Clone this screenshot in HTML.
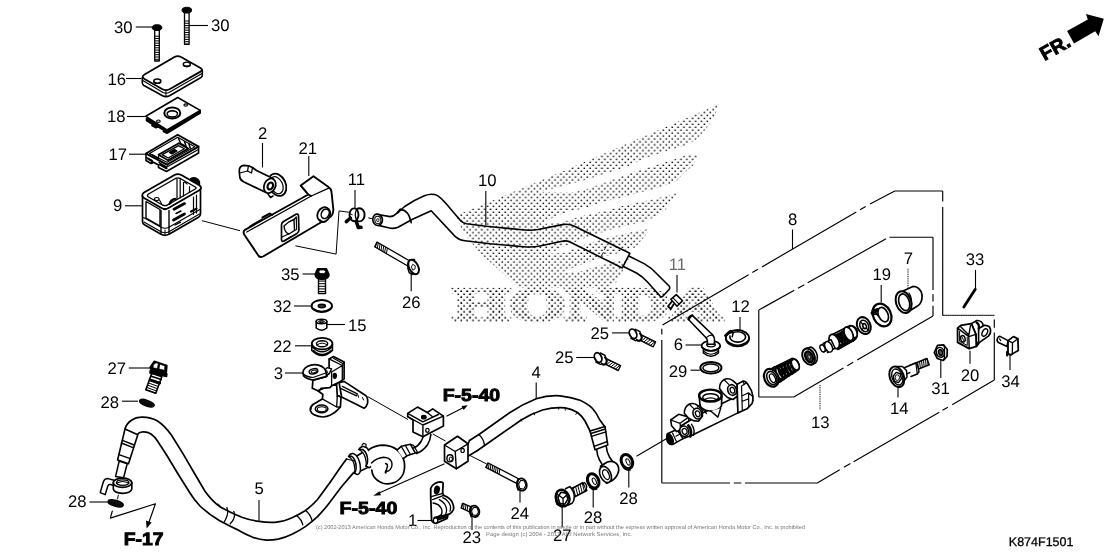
<!DOCTYPE html>
<html><head><meta charset="utf-8"><title>Rear brake master cylinder</title>
<style>
html,body{margin:0;padding:0;background:#fff;}
body{width:1120px;height:560px;overflow:hidden;font-family:"Liberation Sans",sans-serif;}
svg{display:block;filter:grayscale(1);text-rendering:geometricPrecision}
</style></head><body>
<svg width="1120" height="560" viewBox="0 0 1120 560" font-family='"Liberation Sans", sans-serif'>
<defs>
<pattern id="dots" width="5.86" height="5.86" patternUnits="userSpaceOnUse">
<rect x="0.5" y="0.6" width="1.55" height="1.35" fill="#000"/>
<rect x="3.43" y="3.53" width="1.55" height="1.35" fill="#000"/>
</pattern>
</defs>
<rect width="1120" height="560" fill="#fff"/>
<g id="wm">
<path d="M455,216 L560,172.5 L718.6,104.3 L715.7,113.6 L711.4,122 L704.3,130.7 L695.7,140 L699.5,153.5 L692.9,165.7 L682.9,174.3 L677.1,180.7 L678,192 L674.3,196.5 L665.7,210 L654.3,217.1 L650.5,228 L645.7,235.2 L636,247 L629,258 L624,268.6 L616.3,282.3 L606,288 L518,288 L502,272.5 L482,255 L465,235 Z" fill="url(#dots)"/>
<path d="M720,135 L695.7,140 L684.3,145.7 L670,150 L645.7,158 L627,166.4 L610,172 L583,180.7 L561,186.5 L540,192 L572.9,192.6 L587.1,189 L608.6,181.3 L632.9,172.2 L651.4,166.4 L677,158.6 L685.7,155 L698.6,154.8 L720,156 Z" fill="#fff"/>
<path d="M700,165 L692.9,165.7 L682.9,174.3 L677.1,180.7 L668.6,184.3 L660,187.1 L651.4,190 L637.1,192.9 L628.6,195.7 L617.1,198.6 L604.3,201.4 L594.3,205 L582.9,208.6 L568.6,211.4 L554.3,217.1 L540,224 L560,223 L578.6,217 L591.4,214 L607.1,210.5 L624.3,205.5 L640,202 L651.4,199.8 L662.9,197 L668.6,195.5 L677.1,192.6 L700,190 Z" fill="#fff"/>
<path d="M690,195 L674.3,196.5 L665.7,210 L654.3,217.1 L645.7,221.4 L625.7,225.7 L606,231 L585,238 L565,246 L548,254 L565,252.5 L585,244.5 L606,238 L630,232.5 L649.7,228.8 L690,220 Z" fill="#fff"/>
<path d="M670,233 L645.7,235.2 L636,247 L622,252 L600,258 L580,265 L560,273 L580,271.5 L600,265.5 L622,260 L629,258.5 L670,258 Z" fill="#fff"/>
<text x="453" y="320.3" font-family="'Liberation Serif', serif" font-weight="bold" font-size="46" textLength="269" lengthAdjust="spacingAndGlyphs" fill="url(#dots)" stroke="url(#dots)" stroke-width="4.2">HONDA</text>
</g>
<g font-family='"Liberation Sans", sans-serif'>
<text x="114" y="33" font-size="16.7" fill="#000">30</text>
<text x="211" y="31.2" font-size="16.7" fill="#000">30</text>
<text x="107.5" y="84.5" font-size="16.7" fill="#000">16</text>
<text x="107" y="122" font-size="16.7" fill="#000">18</text>
<text x="108.5" y="160" font-size="16.7" fill="#000">17</text>
<text x="113" y="210.5" font-size="16.7" fill="#000">9</text>
<text x="258" y="138.8" font-size="16.7" fill="#000">2</text>
<text x="298.5" y="153.8" font-size="16.7" fill="#000">21</text>
<text x="347.8" y="185" font-size="16.7" fill="#000">11</text>
<text x="478" y="186.2" font-size="16.7" fill="#000">10</text>
<text x="402" y="307.5" font-size="16.7" fill="#000">26</text>
<text x="281" y="280" font-size="16.7" fill="#000">35</text>
<text x="273" y="312" font-size="16.7" fill="#000">32</text>
<text x="348" y="330.5" font-size="16.7" fill="#000">15</text>
<text x="273" y="352" font-size="16.7" fill="#000">22</text>
<text x="273.7" y="378.8" font-size="16.7" fill="#000">3</text>
<text x="107.5" y="374.2" font-size="16.7" fill="#000">27</text>
<text x="100.5" y="407.5" font-size="16.7" fill="#000">28</text>
<text x="68" y="507.2" font-size="16.7" fill="#000">28</text>
<text x="254.5" y="494.2" font-size="16.7" fill="#000">5</text>
<text x="408" y="526.2" font-size="16.7" fill="#000">1</text>
<text x="462.5" y="543" font-size="16.7" fill="#000">23</text>
<text x="510.5" y="519.2" font-size="16.7" fill="#000">24</text>
<text x="553" y="541.2" font-size="16.7" fill="#000">27</text>
<text x="583.8" y="523.2" font-size="16.7" fill="#000">28</text>
<text x="619.2" y="503.8" font-size="16.7" fill="#000">28</text>
<text x="555" y="363" font-size="16.7" fill="#000">25</text>
<text x="590.5" y="338.8" font-size="16.7" fill="#000">25</text>
<text x="531.5" y="377.5" font-size="16.7" fill="#000">4</text>
<text x="673.8" y="350" font-size="16.7" fill="#000">6</text>
<text x="668.8" y="376.5" font-size="16.7" fill="#000">29</text>
<text x="731.2" y="311.8" font-size="16.7" fill="#000">12</text>
<text x="872.5" y="279.5" font-size="16.7" fill="#000">19</text>
<text x="788" y="224.5" font-size="16.7" fill="#000">8</text>
<text x="903.8" y="263.8" font-size="16.7" fill="#000">7</text>
<text x="965.8" y="264.5" font-size="16.7" fill="#000">33</text>
<text x="890" y="413.8" font-size="16.7" fill="#000">14</text>
<text x="931.2" y="393.8" font-size="16.7" fill="#000">31</text>
<text x="960.8" y="380.8" font-size="16.7" fill="#000">20</text>
<text x="1001.2" y="387" font-size="16.7" fill="#000">34</text>
<text x="811" y="427.5" font-size="16.7" fill="#000">13</text>
<text x="668.8" y="269.5" font-size="16.7" fill="#6a6a6a">11</text>
<line x1="135.8" y1="27" x2="153.5" y2="27" stroke="#000" stroke-width="1.1" />
<line x1="189" y1="25.5" x2="208" y2="25.5" stroke="#000" stroke-width="1.1" />
<line x1="126" y1="78.5" x2="141.5" y2="78.5" stroke="#000" stroke-width="1.1" />
<line x1="127" y1="116.5" x2="146" y2="116.5" stroke="#000" stroke-width="1.1" />
<line x1="129" y1="154.2" x2="146" y2="154.2" stroke="#000" stroke-width="1.1" />
<line x1="125" y1="205.8" x2="142.5" y2="205.8" stroke="#000" stroke-width="1.1" />
<line x1="302.5" y1="274" x2="316" y2="274" stroke="#000" stroke-width="1.1" />
<line x1="294" y1="306" x2="311" y2="306" stroke="#000" stroke-width="1.1" />
<line x1="326" y1="324.5" x2="345" y2="324.5" stroke="#000" stroke-width="1.1" />
<line x1="295" y1="345.8" x2="312.5" y2="345.8" stroke="#000" stroke-width="1.1" />
<line x1="285" y1="373" x2="302.5" y2="373" stroke="#000" stroke-width="1.1" />
<line x1="128.8" y1="368" x2="150" y2="368" stroke="#000" stroke-width="1.1" />
<line x1="122" y1="401.2" x2="138" y2="401.2" stroke="#000" stroke-width="1.1" />
<line x1="89.5" y1="502" x2="107.5" y2="502" stroke="#000" stroke-width="1.1" />
<line x1="417.5" y1="520.5" x2="432.5" y2="520.5" stroke="#000" stroke-width="1.1" />
<line x1="576.2" y1="357.5" x2="594" y2="357.5" stroke="#000" stroke-width="1.1" />
<line x1="612" y1="332.9" x2="629.4" y2="332.9" stroke="#000" stroke-width="1.1" />
<line x1="685.5" y1="345" x2="702.5" y2="345" stroke="#000" stroke-width="1.1" />
<line x1="690.5" y1="370.2" x2="699.8" y2="370.2" stroke="#000" stroke-width="1.1" />
<line x1="262.5" y1="143" x2="262.5" y2="167.5" stroke="#000" stroke-width="1.1" />
<line x1="308.8" y1="156" x2="308.8" y2="176" stroke="#000" stroke-width="1.1" />
<line x1="355" y1="190" x2="355" y2="209" stroke="#000" stroke-width="1.1" />
<line x1="485.8" y1="191" x2="485.8" y2="225" stroke="#000" stroke-width="1.1" />
<line x1="411.2" y1="273.8" x2="411.2" y2="291.2" stroke="#000" stroke-width="1.1" />
<line x1="259" y1="500" x2="259" y2="521" stroke="#000" stroke-width="1.1" />
<line x1="472" y1="516" x2="472" y2="530" stroke="#000" stroke-width="1.1" />
<line x1="520" y1="488.8" x2="520" y2="502.5" stroke="#000" stroke-width="1.1" />
<line x1="562.2" y1="506" x2="562.2" y2="527.5" stroke="#000" stroke-width="1.1" />
<line x1="593.2" y1="488" x2="593.2" y2="507.5" stroke="#000" stroke-width="1.1" />
<line x1="628.8" y1="468.8" x2="628.8" y2="487.5" stroke="#000" stroke-width="1.1" />
<line x1="536.2" y1="382.5" x2="536.2" y2="398.8" stroke="#000" stroke-width="1.1" />
<line x1="740" y1="317" x2="740" y2="331.2" stroke="#000" stroke-width="1.1" />
<line x1="881.2" y1="285" x2="881.2" y2="302.5" stroke="#000" stroke-width="1.1" />
<line x1="792.5" y1="229.5" x2="792.5" y2="249.5" stroke="#000" stroke-width="1.1" />
<line x1="677" y1="275" x2="677" y2="292.5" stroke="#000" stroke-width="1.1" />
<line x1="975.5" y1="270" x2="975.5" y2="288" stroke="#000" stroke-width="1.1" />
<line x1="898" y1="386.2" x2="898" y2="397.5" stroke="#000" stroke-width="1.1" />
<line x1="940.8" y1="359.5" x2="940.8" y2="378" stroke="#000" stroke-width="1.1" />
<line x1="970" y1="350.8" x2="970" y2="363.8" stroke="#000" stroke-width="1.1" />
<line x1="1010" y1="355" x2="1010" y2="370" stroke="#000" stroke-width="1.1" />
<line x1="908" y1="268.8" x2="908" y2="287.5" stroke="#000" stroke-width="1.0" stroke-dasharray="1 0.8" stroke="#333"/>
<line x1="820" y1="385" x2="820" y2="410" stroke="#000" stroke-width="1.0" stroke-dasharray="1 0.8"/>
<text x="123.7" y="544.8" font-size="17.8" font-weight="bold" textLength="39.8" lengthAdjust="spacingAndGlyphs" stroke="#000" stroke-width="0.9" fill="#000">F-17</text>
<text x="339.5" y="513.8" font-size="17.5" font-weight="bold" textLength="57.8" lengthAdjust="spacingAndGlyphs" stroke="#000" stroke-width="0.9" fill="#000">F-5-40</text>
<text x="442.7" y="400.6" font-size="17.5" font-weight="bold" textLength="57.5" lengthAdjust="spacingAndGlyphs" stroke="#000" stroke-width="0.9" fill="#000">F-5-40</text>
<text x="1008.8" y="546.2" font-size="12.5" fill="#000" stroke="#000" stroke-width="0.3">K874F1501</text>
<text x="316" y="529" font-size="5.6" fill="#777" textLength="489" lengthAdjust="spacingAndGlyphs">(c) 2002-2013 American Honda Motor Co., Inc. Reproduction of the contents of this publication in whole or in part without the express written approval of American Honda Motor Co., Inc. is prohibited</text>
<text x="486" y="536" font-size="5.6" fill="#777" textLength="146" lengthAdjust="spacingAndGlyphs">Page design (c) 2004 - 2013 ARI Network Services, Inc.</text>
</g>
<path d="M661.8,483.0 L661.8,340.0 M661.8,334.4 L661.8,328.8 M662.5,325.0 L748.6,274.8 M752.3,272.6 L758.0,269.2 M762.0,266.9 L856.3,211.9 M860.0,209.7 L865.7,206.4 M870.0,203.9 L894.8,191.0 M894.8,191.0 L942.7,191.0 M942.7,191.0 L942.7,201.4 M942.7,207.0 L942.7,315.3 M994.3,319.5 L994.3,327.8 M994.3,332.5 L994.3,380.0 M994.3,380.0 L952.2,404.7 M947.9,407.2 L942.5,410.3 M939.3,412.2 L853.6,461.8 M850.4,463.6 L843.9,467.3 M839.7,469.8 L817.3,483.0 M817.3,483.0 L745.0,483.0 M741.3,483.0 L733.8,483.0 M730.0,483.0 L661.8,483.0 M758.8,397.0 L758.8,310.0 M758.8,310.0 L794.3,290.3 M798.0,288.2 L804.3,284.7 M807.7,282.8 L886.0,238.8 M889.4,237.2 L933.0,237.2 M933.0,237.2 L933.0,290.0 M933.0,294.3 L933.0,301.4 M933.0,305.7 L933.0,316.0 M933.0,316.0 L857.2,360.0 M853.2,362.3 L847.3,365.7 M843.4,368.0 L793.8,397.0 M793.8,397.0 L758.8,397.0" stroke="#000" stroke-width="1.15" fill="none" stroke-linecap="butt"/>
<path d="M942.7,315.3 L994.3,315.3" stroke="#000" stroke-width="1.0" fill="none" stroke-linejoin="round" stroke-linecap="round" stroke-dasharray="1 0.8"/>
<polygon points="1067.1,31 1087.8,19.4 1086,14 1103.8,18.8 1098.5,36.2 1095.2,31.2 1074,43.5" fill="#000"/>
<text x="0" y="0" font-family='"Liberation Sans", sans-serif' font-weight="bold" font-size="19.5" stroke="#000" stroke-width="0.9" transform="translate(1044.6,61) rotate(-29.5)">FR.</text>
<path d="M154.7,28.0 L154.7,61.0 L159.3,61.0 L159.3,28.0 Z" stroke="#000" stroke-width="1.3" fill="#fff" stroke-linejoin="round" stroke-linecap="round" />
<line x1="154.7" y1="36.2" x2="159.3" y2="36.2" stroke="#000" stroke-width="1.0" />
<line x1="154.7" y1="38.5" x2="159.3" y2="38.5" stroke="#000" stroke-width="1.0" />
<line x1="154.7" y1="40.9" x2="159.3" y2="40.9" stroke="#000" stroke-width="1.0" />
<line x1="154.7" y1="43.2" x2="159.3" y2="43.2" stroke="#000" stroke-width="1.0" />
<line x1="154.7" y1="45.5" x2="159.3" y2="45.5" stroke="#000" stroke-width="1.0" />
<line x1="154.7" y1="47.8" x2="159.3" y2="47.8" stroke="#000" stroke-width="1.0" />
<line x1="154.7" y1="50.1" x2="159.3" y2="50.1" stroke="#000" stroke-width="1.0" />
<line x1="154.7" y1="52.4" x2="159.3" y2="52.4" stroke="#000" stroke-width="1.0" />
<line x1="154.7" y1="54.7" x2="159.3" y2="54.7" stroke="#000" stroke-width="1.0" />
<line x1="154.7" y1="57.0" x2="159.3" y2="57.0" stroke="#000" stroke-width="1.0" />
<line x1="154.7" y1="59.3" x2="159.3" y2="59.3" stroke="#000" stroke-width="1.0" />
<ellipse cx="157" cy="27.6" rx="4.8" ry="2.9" stroke="#000" stroke-width="1" fill="#000" />
<path d="M184.5,11.0 L184.5,44.3 L189.1,44.3 L189.1,11.0 Z" stroke="#000" stroke-width="1.3" fill="#fff" stroke-linejoin="round" stroke-linecap="round" />
<line x1="184.5" y1="21.0" x2="189.1" y2="21.0" stroke="#000" stroke-width="1.0" />
<line x1="184.5" y1="23.3" x2="189.1" y2="23.3" stroke="#000" stroke-width="1.0" />
<line x1="184.5" y1="25.6" x2="189.1" y2="25.6" stroke="#000" stroke-width="1.0" />
<line x1="184.5" y1="27.9" x2="189.1" y2="27.9" stroke="#000" stroke-width="1.0" />
<line x1="184.5" y1="30.2" x2="189.1" y2="30.2" stroke="#000" stroke-width="1.0" />
<line x1="184.5" y1="32.5" x2="189.1" y2="32.5" stroke="#000" stroke-width="1.0" />
<line x1="184.5" y1="34.8" x2="189.1" y2="34.8" stroke="#000" stroke-width="1.0" />
<line x1="184.5" y1="37.1" x2="189.1" y2="37.1" stroke="#000" stroke-width="1.0" />
<line x1="184.5" y1="39.4" x2="189.1" y2="39.4" stroke="#000" stroke-width="1.0" />
<line x1="184.5" y1="41.7" x2="189.1" y2="41.7" stroke="#000" stroke-width="1.0" />
<line x1="184.5" y1="44.0" x2="189.1" y2="44.0" stroke="#000" stroke-width="1.0" />
<ellipse cx="186.8" cy="10.2" rx="4.8" ry="2.9" stroke="#000" stroke-width="1" fill="#000" />
<path d="M142.3,77.5 L142.3,83 Q142.5,84.5 144,85.5 L162.5,95.8 Q166,97.5 169.5,95.8 L201,77.5 Q202.3,76.5 202.3,75 L202.3,70" stroke="#000" stroke-width="1.6" fill="#fff" stroke-linejoin="round" stroke-linecap="round" />
<path d="M142.8,80.5 L163,92.5 Q166,93.8 169,92.5 L202,73.5" stroke="#000" stroke-width="1.1" fill="none" stroke-linejoin="round" stroke-linecap="round" />
<path d="M165.9,90 L165.9,96.5" stroke="#000" stroke-width="1.0" fill="none" stroke-linejoin="round" stroke-linecap="round" />
<path d="M144.5,74.5 L174.5,57 Q177.7,55.2 181,57 L200.5,68 Q203.2,69.8 200.5,71.6 L169.5,89.2 Q166,91 162.5,89.2 L144.5,79 Q141,76.7 144.5,74.5 Z" stroke="#000" stroke-width="1.8" fill="#fff" stroke-linejoin="round" stroke-linecap="round" />
<ellipse cx="186.8" cy="64.3" rx="3.6" ry="2.2" stroke="#000" stroke-width="1.3" fill="none" />
<path d="M183.8,65.3 Q186.8,67.5 189.9,65.3" stroke="#000" stroke-width="1.6" fill="none" stroke-linejoin="round" stroke-linecap="round" />
<ellipse cx="157.3" cy="81.2" rx="3.6" ry="2.2" stroke="#000" stroke-width="1.3" fill="none" />
<path d="M154.3,82.2 Q157.3,84.4 160.4,82.2" stroke="#000" stroke-width="1.6" fill="none" stroke-linejoin="round" stroke-linecap="round" />
<path d="M146.5,118.5 L146.5,120.5 L152,124 L152,125.5 L156,127.8 L158,126.8 L163.5,130 L163.5,131.5 L167,133.3 L200.2,113 L200.2,110.4" stroke="#000" stroke-width="1.6" fill="#000" stroke-linejoin="round" stroke-linecap="round" />
<path d="M145.8,116.3 L177.7,97.5 L200.2,110.4 L167,130 Z" stroke="#000" stroke-width="1.6" fill="#fff" stroke-linejoin="round" stroke-linecap="round" />
<ellipse cx="172.3" cy="113" rx="8" ry="5.6" stroke="#000" stroke-width="2.0" fill="#fff" />
<ellipse cx="172.3" cy="113.8" rx="5.2" ry="3.2" stroke="#000" stroke-width="1.4" fill="none" />
<path d="M167.5,112.5 Q172.3,109.5 177.2,112.5" stroke="#000" stroke-width="1.2" fill="none" stroke-linejoin="round" stroke-linecap="round" />
<ellipse cx="185.7" cy="105" rx="1.8" ry="1.2" stroke="#000" stroke-width="1.2" fill="none" />
<ellipse cx="158.4" cy="121.2" rx="1.8" ry="1.2" stroke="#000" stroke-width="1.2" fill="none" />
<path d="M146,153.6 L146,160.5 L151,163.5 L153.5,162.2 L158.5,165 L158.5,167.5 L166.5,171.5 L198.6,153 L198.6,146.6" stroke="#000" stroke-width="1.6" fill="#fff" stroke-linejoin="round" stroke-linecap="round" />
<path d="M146.5,157.5 L152,160.8 M159,162.5 L166.8,167 L198.4,149.5" stroke="#000" stroke-width="1.3" fill="none" stroke-linejoin="round" stroke-linecap="round" />
<path d="M148,158.6 L152,161 L152,163 M160,164.5 L166.5,168.2" stroke="#000" stroke-width="2.2" fill="none" stroke-linejoin="round" stroke-linecap="round" />
<path d="M146,153.6 L177.7,134.8 L198.6,146.6 L167,164.6 Z" stroke="#000" stroke-width="1.8" fill="#fff" stroke-linejoin="round" stroke-linecap="round" />
<path d="M149.5,153.6 L177.7,137.3 L194.8,146.8 L167,162.3 Z" stroke="#000" stroke-width="1.2" fill="none" stroke-linejoin="round" stroke-linecap="round" />
<path d="M158.5,154.8 L178.8,143.2 L188.3,148.6 L168,160.2 Z" stroke="#000" stroke-width="1.8" fill="none" stroke-linejoin="round" stroke-linecap="round" />
<path d="M162.2,154.6 L178.6,145.6 L184.4,148.8 L168.2,158 Z" stroke="#000" stroke-width="1.3" fill="none" stroke-linejoin="round" stroke-linecap="round" />
<path d="M169.5,152.3 L174.5,149.6 L177,151 L172,153.8 Z" stroke="#000" stroke-width="1.4" fill="#000" stroke-linejoin="round" stroke-linecap="round" />
<path d="M152.5,155 L158.5,158.5 M178.5,138.5 L180.5,143 M184.5,141.8 L186,146 M189,144.3 L190.3,148.3 M181.5,144 L186.5,147" stroke="#000" stroke-width="1.5" fill="none" stroke-linejoin="round" stroke-linecap="round" />
<path d="M158.5,156 L158.5,160.3 L167.5,165" stroke="#000" stroke-width="1.2" fill="none" stroke-linejoin="round" stroke-linecap="round" />
<path d="M142.5,196 L142.5,221.5 Q142.5,223.5 144.5,224.8 L161,234.3 Q165,236.3 169,234.3 L198.5,217.3 Q200.5,216 200.5,214 L200.5,189 L165,209.5 Z" stroke="#000" stroke-width="1.7" fill="#fff" stroke-linejoin="round" stroke-linecap="round" />
<path d="M146,201.5 L146,218 L160,226 L160,209.5 Z" stroke="#000" stroke-width="1.4" fill="none" stroke-linejoin="round" stroke-linecap="round" />
<path d="M144,222 L161.5,232 Q165,233.5 168.5,232 L199.5,214" stroke="#000" stroke-width="1.1" fill="none" stroke-linejoin="round" stroke-linecap="round" />
<path d="M161,210.5 L161,233.5 M169,210.5 L169,233.5" stroke="#000" stroke-width="1.4" fill="none" stroke-linejoin="round" stroke-linecap="round" />
<path d="M165,230 L165,235.5" stroke="#000" stroke-width="1.0" fill="none" stroke-linejoin="round" stroke-linecap="round" />
<path d="M196.5,195 L196.5,213 M193.5,197 L193.5,214.5" stroke="#000" stroke-width="1.2" fill="none" stroke-linejoin="round" stroke-linecap="round" />
<path d="M174,209.2 L184.5,203.6 M173.5,220 L184.5,214" stroke="#000" stroke-width="2.8" fill="none" stroke-linejoin="round" stroke-linecap="round" />
<path d="M176,213.5 L181,211 M175,225 L180.5,222.2" stroke="#000" stroke-width="1.4" fill="none" stroke-linejoin="round" stroke-linecap="round" />
<path d="M191,211.5 L196.5,208.6" stroke="#000" stroke-width="2.2" fill="none" stroke-linejoin="round" stroke-linecap="round" />
<path d="M143.5,217.5 L161.5,227.5 Q165,229 168.5,227.5 L199.8,209.5" stroke="#000" stroke-width="1.1" fill="none" stroke-linejoin="round" stroke-linecap="round" />
<path d="M190.5,178.5 Q196,176 199.5,181.5 L199.5,186.5 L193,182.5 Z" stroke="#000" stroke-width="1.3" fill="#000" stroke-linejoin="round" stroke-linecap="round" />
<path d="M144,192.5 L174.5,175 Q177.9,173.2 181.3,175 L199.3,185.3 Q202.8,187.8 199.3,190.2 L168.5,208 Q165,210 161.5,208 L144,198 Q140.5,195.2 144,192.5 Z" stroke="#000" stroke-width="1.8" fill="#fff" stroke-linejoin="round" stroke-linecap="round" />
<path d="M148.5,194 L175.5,178.5 Q177.9,177.3 180.3,178.5 L195.3,187 Q196.8,188 195.3,189 L167.5,205 Q165,206.2 162.5,205 L148.5,197 Q146.3,195.4 148.5,194 Z" stroke="#000" stroke-width="1.4" fill="none" stroke-linejoin="round" stroke-linecap="round" />
<path d="M177,179 L177,199.5 M180.2,179.5 L180.2,197.8" stroke="#000" stroke-width="1.2" fill="none" stroke-linejoin="round" stroke-linecap="round" />
<path d="M183.5,182.5 L183.5,196 M187,184 Q185,181.5 183.5,182.5 M189.5,186.5 L189.5,192.5" stroke="#000" stroke-width="1.2" fill="none" stroke-linejoin="round" stroke-linecap="round" />
<path d="M171,203 Q172.5,197.5 177,199.5" stroke="#000" stroke-width="1.2" fill="none" stroke-linejoin="round" stroke-linecap="round" />
<path d="M169.5,203.8 Q171,199.5 175,198.8" stroke="#000" stroke-width="2.2" fill="none" stroke-linejoin="round" stroke-linecap="round" />
<ellipse cx="156.8" cy="199" rx="2.3" ry="1.5" stroke="#000" stroke-width="1.1" fill="none" />
<path d="M159.5,200 L161.5,203.5" stroke="#000" stroke-width="1.1" fill="none" stroke-linejoin="round" stroke-linecap="round" />
<line x1="202" y1="220.7" x2="240" y2="230.7" stroke="#000" stroke-width="1.0" />
<path d="M295.8,245.9 L336.1,254.1 L339,210.9 L348.5,212.2" stroke="#000" stroke-width="1.0" fill="none" stroke-linejoin="round" stroke-linecap="round" />
<line x1="368.3" y1="217.8" x2="377" y2="220" stroke="#000" stroke-width="1.0" />
<ellipse cx="277.3" cy="184.8" rx="8.4" ry="11.6" stroke="#000" stroke-width="1.8" fill="#fff" transform="rotate(-25 277.3 184.8)" />
<ellipse cx="276.6" cy="185.2" rx="6.0" ry="9.0" stroke="#000" stroke-width="1.2" fill="none" transform="rotate(-25 276.6 185.2)" />
<path d="M243.5,165.3 Q239,166 239.3,171.5 L239.8,177.3 Q240.5,180.5 244,182 L266,192.5 L273.5,178.8 L256.5,170.5 L252.5,167.5 L248.5,165.8 Z" stroke="#000" stroke-width="1.7" fill="#fff" stroke-linejoin="round" stroke-linecap="round" />
<path d="M248.5,165.8 L247.5,171 L251.5,173 L252.5,167.5" stroke="#000" stroke-width="1.3" fill="none" stroke-linejoin="round" stroke-linecap="round" />
<path d="M239.5,173 L247.5,171" stroke="#000" stroke-width="1.2" fill="none" stroke-linejoin="round" stroke-linecap="round" />
<ellipse cx="269.8" cy="185.8" rx="5.6" ry="7.6" stroke="#000" stroke-width="1.7" fill="#fff" transform="rotate(25 269.8 185.8)" />
<ellipse cx="270.3" cy="186" rx="2.6" ry="3.6" stroke="#000" stroke-width="2.2" fill="#fff" transform="rotate(25 270.3 186)" />
<path d="M268,194 L270.5,197.5 L273,196" stroke="#000" stroke-width="1.5" fill="none" stroke-linejoin="round" stroke-linecap="round" />
<path d="M300.7,185.6 L313.5,176.3 L328.5,187 Q331,188.5 331.5,192 L333.3,209 Q333.5,212.5 332,215 L330.5,216.8 L263,256.5 Q259.5,258 258,255 L244.5,235 Q242.5,231.5 245,229.8 L308.3,194.5 Z" stroke="#000" stroke-width="1.9" fill="#fff" stroke-linejoin="round" stroke-linecap="round" />
<path d="M246.8,232 L311.3,196 L329.3,187.8" stroke="#000" stroke-width="1.3" fill="none" stroke-linejoin="round" stroke-linecap="round" />
<path d="M308.3,194.5 L311.3,196 M300.7,185.6 L308.3,194.5" stroke="#000" stroke-width="1.5" fill="none" stroke-linejoin="round" stroke-linecap="round" />
<path d="M250,226.5 L262,219.5 M262.5,217.5 L270,213.5 L272,215" stroke="#000" stroke-width="2.0" fill="none" stroke-linejoin="round" stroke-linecap="round" />
<path d="M283.5,221.5 L296,214.3 Q298.3,213.3 298.5,215.8 L298.9,230 Q298.9,232.2 297,233.4 L284.5,240.8 Q281.5,242.3 281.5,239.3 L281.5,225 Q281.5,222.7 283.5,221.5 Z" stroke="#000" stroke-width="1.7" fill="none" stroke-linejoin="round" stroke-linecap="round" />
<path d="M284,226 Q288,221.5 294,219.5 L294.5,230.5 L289,234 Q284.5,232.5 284,226 Z" stroke="#000" stroke-width="1.4" fill="none" stroke-linejoin="round" stroke-linecap="round" />
<path d="M294,219.5 L296.3,217 L296.6,229.5 L294.5,230.5 M282,237 L289,233.8 M284.5,240.5 L291,236.8" stroke="#000" stroke-width="1.2" fill="none" stroke-linejoin="round" stroke-linecap="round" />
<ellipse cx="323.8" cy="214.6" rx="6.2" ry="7.6" stroke="#000" stroke-width="1.8" fill="#fff" transform="rotate(25 323.8 214.6)" />
<ellipse cx="325.2" cy="213.8" rx="3.8" ry="4.9" stroke="#000" stroke-width="1.5" fill="none" transform="rotate(25 325.2 213.8)" />
<path d="M319.5,219.5 Q321.5,222 325,221.5" stroke="#000" stroke-width="1.3" fill="none" stroke-linejoin="round" stroke-linecap="round" />
<ellipse cx="359.4" cy="214.8" rx="5.2" ry="6.6" stroke="#000" stroke-width="1.9" fill="#fff" />
<ellipse cx="354" cy="214.8" rx="4.5" ry="6.4" stroke="#000" stroke-width="1.9" fill="#fff" />
<path d="M356.8,209.3 Q353.8,214.5 356.8,220.3" stroke="#000" stroke-width="1.3" fill="none" stroke-linejoin="round" stroke-linecap="round" />
<path d="M346.3,221.6 L350.5,218" stroke="#000" stroke-width="3.4" fill="none" stroke-linejoin="round" stroke-linecap="round" />
<path d="M356.3,221.5 L358.3,227.5 L361,227.3" stroke="#000" stroke-width="3.6" fill="none" stroke-linejoin="round" stroke-linecap="round" />
<path d="M349.5,213.5 L352.3,214.7" stroke="#000" stroke-width="1.0" fill="none" stroke-linejoin="round" stroke-linecap="round" />
<path d="M379.5,214.8 L390,216.6 Q393.5,216.5 396.5,213.6 L404.7,206.5 Q414,200 424.3,195.7 Q432.2,192.8 437.5,195.6 Q441.5,198 446,203.5 L460,220 Q462.5,223 466.5,223.8 L486.2,226.2 L522,229.8 Q530,230.8 538,229.5 L562.5,224.6 Q569,223.5 574.5,226.3 L629.8,253.3 L622.3,268 L570,242 Q566.2,240.3 562,241.2 L541,245.8 Q533,247.5 524,246.8 L490,243.7 L465,240.8 Q459,240 455.3,236.6 L431.2,210.7 L412.5,219.3 L398,227.2 Q394.5,228.8 390.5,228.3 L378.5,225.4 Z" stroke="#000" stroke-width="1.6" fill="#fff" stroke-linejoin="round" stroke-linecap="round" fill-opacity="0"/>
<path d="M400.2,209.6 Q408.5,209.5 411.2,222.6" stroke="#000" stroke-width="1.6" fill="none" stroke-linejoin="round" stroke-linecap="round" />
<path d="M397.5,212.8 Q400,210 400.2,209.6" stroke="#000" stroke-width="2.2" fill="none" stroke-linejoin="round" stroke-linecap="round" />
<ellipse cx="377.6" cy="219.8" rx="4.8" ry="5.7" stroke="#000" stroke-width="1.7" fill="#fff" transform="rotate(-10 377.6 219.8)" />
<ellipse cx="377.8" cy="220" rx="3.0" ry="3.8" stroke="#000" stroke-width="1.0" fill="none" transform="rotate(-10 377.8 220)" />
<ellipse cx="377.8" cy="220.2" rx="1.2" ry="1.5" stroke="#000" stroke-width="0.9" fill="none" />
<path d="M606,246.5 L604.5,249.5 M603.2,252.5 L601.6,255.5" stroke="#000" stroke-width="0.9" fill="none" stroke-linejoin="round" stroke-linecap="round" />
<path d="M628.8,256 L644.5,263.9 Q651,267.5 656.5,273.5 L669.3,286.3 Q670.3,287.8 669.3,289.3 L662.8,296.3 Q661.4,297.3 660,296 L647.5,282 Q642.5,276.5 636.5,273 L623.9,266.8" stroke="#000" stroke-width="1.6" fill="none" stroke-linejoin="round" stroke-linecap="round" />
<path d="M374.6,246.8 L409.1,266.8 L411.9,262.2 L377.4,242.2 Z" stroke="#000" stroke-width="1.3" fill="#fff" stroke-linejoin="round" stroke-linecap="round" />
<line x1="375.5" y1="247.3" x2="376.5" y2="241.7" stroke="#000" stroke-width="1.0" />
<line x1="377.3" y1="248.4" x2="378.3" y2="242.7" stroke="#000" stroke-width="1.0" />
<line x1="379.1" y1="249.4" x2="380.1" y2="243.8" stroke="#000" stroke-width="1.0" />
<line x1="381.0" y1="250.5" x2="381.9" y2="244.8" stroke="#000" stroke-width="1.0" />
<line x1="382.8" y1="251.6" x2="383.8" y2="245.9" stroke="#000" stroke-width="1.0" />
<line x1="384.6" y1="252.6" x2="385.6" y2="246.9" stroke="#000" stroke-width="1.0" />
<line x1="386.4" y1="253.7" x2="387.4" y2="248.0" stroke="#000" stroke-width="1.0" />
<path d="M409.8,259.8 Q405.8,264.5 409.3,272.8 L413,274.5 L414.5,259.5 Z" stroke="#000" stroke-width="1.5" fill="#fff" stroke-linejoin="round" stroke-linecap="round" />
<ellipse cx="413.6" cy="267" rx="4.5" ry="7.7" stroke="#000" stroke-width="2.0" fill="#fff" transform="rotate(-28 413.6 267)" />
<path d="M413,264.5 L415.3,265.8 L415,269 L412.6,270.2 L411.6,267.3 Z" stroke="#000" stroke-width="0.9" fill="none" stroke-linejoin="round" stroke-linecap="round" />
<path d="M670.8,299.3 L676.3,294.6 L682.5,300.8 L677,306.2 Z" stroke="#000" stroke-width="1.6" fill="#fff" stroke-linejoin="round" stroke-linecap="round" />
<path d="M672.8,297.6 L678.9,303.9" stroke="#000" stroke-width="1.1" fill="none" stroke-linejoin="round" stroke-linecap="round" />
<path d="M671.5,302 L668,306.3 L669.8,308 M673.5,304.5 L670.5,309.5" stroke="#000" stroke-width="1.8" fill="none" stroke-linejoin="round" stroke-linecap="round" />
<path d="M318.5,277.0 L318.5,293.5 L325.5,293.5 L325.5,277.0 Z" stroke="#000" stroke-width="1.4" fill="#fff" stroke-linejoin="round" stroke-linecap="round" />
<line x1="318.5" y1="281.1" x2="325.5" y2="281.1" stroke="#000" stroke-width="1.0" />
<line x1="318.5" y1="283.7" x2="325.5" y2="283.7" stroke="#000" stroke-width="1.0" />
<line x1="318.5" y1="286.3" x2="325.5" y2="286.3" stroke="#000" stroke-width="1.0" />
<line x1="318.5" y1="288.9" x2="325.5" y2="288.9" stroke="#000" stroke-width="1.0" />
<line x1="318.5" y1="291.5" x2="325.5" y2="291.5" stroke="#000" stroke-width="1.0" />
<ellipse cx="322.1" cy="274.8" rx="6.9" ry="4.6" stroke="#000" stroke-width="1.6" fill="#000" />
<path d="M316,272 L317.5,268.8 L326.5,268.8 L328,272 Z" stroke="#000" stroke-width="1.4" fill="#000" stroke-linejoin="round" stroke-linecap="round" />
<path d="M318.5,271.8 L320.5,270 L324,270 L325.8,271.8 L324,273.6 L320.5,273.6 Z" stroke="#000" stroke-width="0.8" fill="#fff" stroke-linejoin="round" stroke-linecap="round" stroke="#fff"/>
<ellipse cx="321.8" cy="306" rx="10.2" ry="6.0" stroke="#000" stroke-width="1.9" fill="#fff" />
<path d="M312,307.8 Q321.8,315 331.6,307.8" stroke="#000" stroke-width="1.3" fill="none" stroke-linejoin="round" stroke-linecap="round" />
<ellipse cx="321.8" cy="306" rx="3.6" ry="1.7" stroke="#000" stroke-width="1.4" fill="#333" />
<path d="M316.2,321.5 L316.2,328 Q321.5,332.5 326.8,328 L326.8,321.5" stroke="#000" stroke-width="1.6" fill="#fff" stroke-linejoin="round" stroke-linecap="round" />
<ellipse cx="321.5" cy="321.5" rx="5.3" ry="2.2" stroke="#000" stroke-width="1.6" fill="#fff" />
<ellipse cx="321.5" cy="321.6" rx="2.8" ry="1.0" stroke="#000" stroke-width="1.0" fill="#555" />
<path d="M311.8,344 L311.8,350.5 Q322,360.5 332.4,350.5 L332.4,344" stroke="#000" stroke-width="1.6" fill="#fff" stroke-linejoin="round" stroke-linecap="round" />
<path d="M312.3,347 Q322,356.5 332,347 M313.5,350.5 Q322,358.5 331,350.5" stroke="#000" stroke-width="1.4" fill="none" stroke-linejoin="round" stroke-linecap="round" />
<ellipse cx="322.1" cy="343.6" rx="10.3" ry="5.8" stroke="#000" stroke-width="1.8" fill="#fff" />
<ellipse cx="322.1" cy="343.8" rx="5.6" ry="3.0" stroke="#000" stroke-width="1.4" fill="none" />
<path d="M317,345 Q322.1,341 327.2,345" stroke="#000" stroke-width="1.0" fill="none" stroke-linejoin="round" stroke-linecap="round" />
<line x1="367.5" y1="396.5" x2="408" y2="419.5" stroke="#000" stroke-width="1.0" />
<path d="M339.1,382.6 L344.1,381.4 L366,395.8 Q368.3,398.5 367.5,403.5 Q366.5,407 364.1,408.3 L341.6,397 Z" stroke="#000" stroke-width="1.7" fill="#fff" stroke-linejoin="round" stroke-linecap="round" />
<path d="M342.3,386.4 L357.3,393.9 L356.6,395.8 L340.5,388.3" stroke="#000" stroke-width="1.3" fill="none" stroke-linejoin="round" stroke-linecap="round" />
<path d="M362.5,397.5 L363.5,400 M358,395 L358.6,397.3" stroke="#000" stroke-width="1.0" fill="none" stroke-linejoin="round" stroke-linecap="round" />
<path d="M317.9,390.8 L322.9,394.5 L322.3,398.9 L313,404.5 Q309.5,407.5 310.4,410.8 Q311.5,414 314.8,415.1 Q318.5,417 322.9,417 Q327,416.8 330.4,415.1 Q335,412.8 337.3,410.1 L340.4,407 L341,397.6 L339.1,395.8 L337.3,396.4 L336.6,384 L320.4,389.5 Z" stroke="#000" stroke-width="1.7" fill="#fff" stroke-linejoin="round" stroke-linecap="round" />
<path d="M322.3,398.9 L336.6,407 L337.3,396.4 M336.6,407 L340.4,407 M313,404.5 Q310.3,407 311,409.5" stroke="#000" stroke-width="1.3" fill="none" stroke-linejoin="round" stroke-linecap="round" />
<ellipse cx="321.6" cy="408.9" rx="6.3" ry="3.8" stroke="#000" stroke-width="1.5" fill="#fff" />
<ellipse cx="321.8" cy="409.3" rx="4.5" ry="2.5" stroke="#000" stroke-width="1.1" fill="none" />
<path d="M312.9,380.1 L312.3,388.3 L317.9,390.8 L320.4,389.5 L321,388.3 L329.8,387.6 L331.6,385.8 L338.5,382.6 L344.1,378.9 L344.1,362 L333.5,356.4 L329.1,358.9 L329.1,368.9 L326.6,376.4 Z" stroke="#000" stroke-width="1.7" fill="#fff" stroke-linejoin="round" stroke-linecap="round" />
<path d="M312.9,380.1 L326.6,376.4 L326,372 M329.1,358.9 L342.3,365.5 L344.1,362 M331.6,372 L331.6,385.8 M331.6,372 L342.3,365.5 L342.3,379.5 M333.5,358.3 L342.3,363.3" stroke="#000" stroke-width="1.3" fill="none" stroke-linejoin="round" stroke-linecap="round" />
<path d="M324.8,370.8 Q325.5,368.5 327.3,367.6 L331.6,368.9 L329.1,373.9 L326,375.8 Z" stroke="#000" stroke-width="1.4" fill="#fff" stroke-linejoin="round" stroke-linecap="round" />
<path d="M326.5,370 L328.3,374" stroke="#000" stroke-width="1.0" fill="none" stroke-linejoin="round" stroke-linecap="round" />
<ellipse cx="334.8" cy="375.8" rx="1.5" ry="2.4" stroke="#000" stroke-width="1.4" fill="#000" />
<path d="M302.9,372.6 Q303.3,369.5 304.8,368.3 Q307.5,365.8 311,365.1 Q315,364.3 318.5,365.1 Q322,366 324.1,368.3 Q325.5,370 326,372 L326.6,376.4 L312.9,380.1 L308.5,378.9 Q304.5,377.5 303.5,375.8 Z" stroke="#000" stroke-width="1.7" fill="#fff" stroke-linejoin="round" stroke-linecap="round" />
<path d="M303,373.5 Q306,377 313,377.5 L325.8,373" stroke="#000" stroke-width="1.2" fill="none" stroke-linejoin="round" stroke-linecap="round" />
<ellipse cx="313.5" cy="371.3" rx="4.5" ry="2.5" stroke="#000" stroke-width="1.4" fill="none" transform="rotate(-15 313.5 371.3)" />
<ellipse cx="313.8" cy="371.5" rx="2.7" ry="1.3" stroke="#000" stroke-width="1.0" fill="none" transform="rotate(-15 313.8 371.5)" />
<path d="M151.8,373.2 L145.8,389.7 L155.8,393.3 L161.8,376.8 Z" stroke="#000" stroke-width="1.6" fill="#fff" stroke-linejoin="round" stroke-linecap="round" />
<line x1="149.1" y1="380.6" x2="159.1" y2="384.2" stroke="#000" stroke-width="1.0" />
<line x1="148.3" y1="382.9" x2="158.3" y2="386.5" stroke="#000" stroke-width="1.0" />
<line x1="147.5" y1="385.1" x2="157.4" y2="388.7" stroke="#000" stroke-width="1.0" />
<line x1="146.7" y1="387.4" x2="156.6" y2="391.0" stroke="#000" stroke-width="1.0" />
<line x1="145.8" y1="389.6" x2="155.8" y2="393.3" stroke="#000" stroke-width="1.0" />
<path d="M149.9,379.6 L159.9,383" stroke="#000" stroke-width="2.4" fill="none" stroke-linejoin="round" stroke-linecap="round" />
<path d="M151.2,376.2 L161.2,379.6" stroke="#000" stroke-width="1.6" fill="none" stroke-linejoin="round" stroke-linecap="round" />
<path d="M150.3,370.3 L166.8,373.8 L166.5,376.5 L150,373 Z" stroke="#000" stroke-width="1.6" fill="#000" stroke-linejoin="round" stroke-linecap="round" />
<path d="M150.2,367.2 L154.2,361.4 L166.8,365.6 L166.3,372.3 L151,369.3 Z" stroke="#000" stroke-width="1.7" fill="#000" stroke-linejoin="round" stroke-linecap="round" />
<path d="M153.5,364.8 L156,362.8 L158.3,363.6 L157.3,368.6 L153.2,367.8 Z M160,364.3 L164.8,365.9 L164.5,370.2 L159.2,369 Z" stroke="#000" stroke-width="0.6" fill="#fff" stroke-linejoin="round" stroke-linecap="round" stroke="#fff"/>
<ellipse cx="146.9" cy="403.2" rx="7.8" ry="2.9" stroke="#000" stroke-width="1.2" fill="#111" transform="rotate(20 146.9 403.2)" />
<path d="M142,401.6 L151.5,405" stroke="#000" stroke-width="0.8" fill="none" stroke-linejoin="round" stroke-linecap="round" stroke="#999"/>
<ellipse cx="115.6" cy="503.3" rx="8.0" ry="3.0" stroke="#000" stroke-width="1.2" fill="#111" transform="rotate(16 115.6 503.3)" />
<path d="M110.5,502.2 L120.5,505" stroke="#000" stroke-width="0.8" fill="none" stroke-linejoin="round" stroke-linecap="round" stroke="#999"/>
<line x1="118.4" y1="494.8" x2="117.5" y2="499.2" stroke="#000" stroke-width="1.0" />
<path d="M112.3,511.2 L110.3,518.1 L155.4,503.8 L148.5,523.5" stroke="#000" stroke-width="1.2" fill="none" stroke-linejoin="round" stroke-linecap="round" />
<polygon points="146.6,528.6 146,520.6 151.6,522.4" fill="#000"/>
<path d="M124.8,429.5 Q126.5,423.5 131.5,420.3 Q136,417.3 141,417.2 Q150,416.8 157.5,421 Q164.5,425.5 171.2,434.8 L182.8,453.4 L192.5,470 L205,491.2 Q212,501 220,506.8 Q231,513 242.5,517.5 Q251,520.5 259,521.3 Q267,522.8 275,522.3 Q284.5,521.5 292.5,517.5 Q299.5,514.5 305,510.8 Q312,505.8 317.5,499.5 L330,482.5 L341,466.5 L346.5,459" stroke="#000" stroke-width="1.7" fill="none" stroke-linejoin="round" stroke-linecap="round" />
<path d="M136.8,436.5 Q137.5,432.5 142,432 Q147,431.5 151,434 Q154.8,436.8 157.5,441 L166.6,455 L178.2,474.2 L189.8,492.8 Q194.5,500.5 200,506 Q209,514.5 219.3,520.6 Q229,526 238.9,530.4 Q246,534.5 252.7,537.2 Q259,539.7 266.4,540.2 Q272.5,540.3 278.2,539.2 Q285.5,537.5 292,534.3 Q299,531 305.7,526.4 Q312,521.8 317.5,516.6 Q323.5,510.5 329.3,502.9 L341.1,487.2 L352.9,473.4 L358.5,468" stroke="#000" stroke-width="1.7" fill="none" stroke-linejoin="round" stroke-linecap="round" />
<path d="M226.8,507.5 Q229.5,513.5 224.3,521.8 M233.8,511.5 Q236.3,517.5 230.2,523.8" stroke="#000" stroke-width="1.3" fill="none" stroke-linejoin="round" stroke-linecap="round" />
<path d="M296.9,515.8 Q301.5,519.5 302.8,524.8 M305.7,510.5 Q310.5,514.5 312,520.4" stroke="#000" stroke-width="1.3" fill="none" stroke-linejoin="round" stroke-linecap="round" />
<path d="M218.2,503.8 L220.3,506.2" stroke="#000" stroke-width="1.0" fill="none" stroke-linejoin="round" stroke-linecap="round" />
<path d="M125,429 L137.8,434.8 L128.5,463.8 L117.6,460 Z" stroke="#000" stroke-width="1.6" fill="#fff" stroke-linejoin="round" stroke-linecap="round" />
<path d="M122.4,440.4 L134.2,445 M121.3,443 L133.2,447.6 M118.9,454.6 L130.3,458.6" stroke="#000" stroke-width="1.4" fill="none" stroke-linejoin="round" stroke-linecap="round" />
<path d="M119.2,461 L127.2,463.8 L123.6,477.8 L115.6,476.4 Z" stroke="#000" stroke-width="1.5" fill="#fff" stroke-linejoin="round" stroke-linecap="round" />
<path d="M114,480.2 L108,478.6 Q104.5,478.5 103.3,482 L100.2,492.6 L105.2,494.6 L107.8,486 Q108.5,484 110.5,484.5 L113.8,485.6" stroke="#000" stroke-width="1.5" fill="#fff" stroke-linejoin="round" stroke-linecap="round" />
<path d="M113.3,482.8 L113.3,489 Q114,493 122.5,493.4 Q131,493 131.8,489 L131.8,482.8" stroke="#000" stroke-width="1.6" fill="#fff" stroke-linejoin="round" stroke-linecap="round" />
<ellipse cx="122.5" cy="482.8" rx="9.3" ry="4.6" stroke="#000" stroke-width="1.8" fill="#fff" />
<ellipse cx="122.7" cy="482.6" rx="6.2" ry="2.7" stroke="#000" stroke-width="1.3" fill="none" />
<path d="M116.7,483.3 Q122.5,479.8 128.8,483.3" stroke="#000" stroke-width="1.1" fill="none" stroke-linejoin="round" stroke-linecap="round" />
<path d="M346.5,459 L357,461.5" stroke="#000" stroke-width="1.2" fill="none" stroke-linejoin="round" stroke-linecap="round" />
<path d="M348.5,456.5 Q350.5,452.8 353.5,453.6 L356.3,455.4 Q360.5,461 360.5,469.5 Q360.2,473.8 357.5,474.6 L354.5,473.2 Q357,470 355.8,463.5 Q354.5,458 351.8,456.3 Z" stroke="#000" stroke-width="1.5" fill="#fff" stroke-linejoin="round" stroke-linecap="round" />
<path d="M348.5,456.5 Q352.5,458.5 354.2,464.5 Q355.5,470 354.5,473.2" stroke="#000" stroke-width="1.3" fill="none" stroke-linejoin="round" stroke-linecap="round" />
<path d="M356.8,456 L362.5,452.5 M360.5,471 L368,467.3" stroke="#000" stroke-width="1.5" fill="none" stroke-linejoin="round" stroke-linecap="round" />
<path d="M358.8,449.5 Q360.8,445.8 363.8,446.5 L367.3,448.2 Q372,454 372.3,462.5 Q372,467 369.3,467.8 L366,466.3 Q368.5,462.5 367.2,456.5 Q365.8,451.3 362.6,449.5 Z" stroke="#000" stroke-width="1.5" fill="#fff" stroke-linejoin="round" stroke-linecap="round" />
<path d="M358.8,449.5 Q363.3,451.5 365.3,457.5 Q366.8,463 366,466.3" stroke="#000" stroke-width="1.3" fill="none" stroke-linejoin="round" stroke-linecap="round" />
<path d="M362,445.2 L363.5,443.3 L366,444.2 L366,446.8" stroke="#000" stroke-width="1.2" fill="none" stroke-linejoin="round" stroke-linecap="round" />
<path d="M368.5,450 Q375,445.2 383.6,445.2 Q391.5,445.6 397,449.8 Q402.5,454.5 404.2,461.5 Q405.3,468.5 403.2,474 Q400.5,479.5 395,482.3 Q389,484.8 383,483.2 Q377,481.3 373.8,476.5 Q372,473.5 371.8,470" stroke="#000" stroke-width="1.7" fill="#fff" stroke-linejoin="round" stroke-linecap="round" />
<path d="M371.5,463 Q376,458.3 383.6,457.3 Q389.5,457.5 391.6,461.8 Q392.8,466 390.3,469.4 Q388.3,471.8 386,471.2 L387.5,466 Q387.6,464 385.5,463.5" stroke="#000" stroke-width="1.4" fill="none" stroke-linejoin="round" stroke-linecap="round" />
<path d="M386,471.2 L385.6,472.6" stroke="#000" stroke-width="2.2" fill="none" stroke-linejoin="round" stroke-linecap="round" />
<path d="M397.2,449.8 L401.2,446.3 L410.5,444.3 L415.2,452.9 L407,455.8 L403.3,458.5" stroke="#000" stroke-width="1.6" fill="#fff" stroke-linejoin="round" stroke-linecap="round" />
<path d="M401.2,446.3 L406.5,455.5 M405.3,445.3 L410.3,454.3 M410.5,444.3 L413.5,445.3 L417.5,452.3 L415.2,452.9" stroke="#000" stroke-width="1.3" fill="none" stroke-linejoin="round" stroke-linecap="round" />
<path d="M416.5,453.5 Q423.5,450.8 427.5,444.8 Q430.3,440.3 430.9,434.5 M413.8,447.8 Q418.5,446 421,441.5 Q422.6,439 422.9,437" stroke="#000" stroke-width="1.6" fill="none" stroke-linejoin="round" stroke-linecap="round" />
<line x1="432.7" y1="433.9" x2="445.5" y2="441" stroke="#000" stroke-width="1.0" />
<path d="M413,420 L413,432 L422.9,436.8 L430,433 L443.4,425.9 L443.4,416.1 L432.7,408.9 L427.3,412.5 L417.5,407.1 L407.7,413.4 L407.7,416.6 Z" stroke="#000" stroke-width="1.7" fill="#fff" stroke-linejoin="round" stroke-linecap="round" />
<path d="M407.7,413.4 L422.9,421.8 L438.3,414.5 M407.7,416.6 L422.9,425 L443.4,416.1 M422.9,425 L422.9,436.8 M427.3,412.5 L432.5,416.8" stroke="#000" stroke-width="1.4" fill="none" stroke-linejoin="round" stroke-linecap="round" />
<ellipse cx="423.8" cy="417.2" rx="2.3" ry="1.8" stroke="#000" stroke-width="1.2" fill="#000" />
<ellipse cx="427.4" cy="430.3" rx="1.7" ry="2.0" stroke="#000" stroke-width="1.2" fill="none" />
<line x1="446.5" y1="416.3" x2="463.5" y2="407.5" stroke="#000" stroke-width="1.1" />
<polygon points="467.8,405.3 461.5,406 463.6,410" fill="#000"/>
<line x1="444.5" y1="463.8" x2="378" y2="493.6" stroke="#000" stroke-width="1.1" />
<polygon points="373.2,495.8 379.4,491.2 381,495.2" fill="#000"/>
<line x1="470" y1="455.5" x2="486.5" y2="463.9" stroke="#000" stroke-width="1.0" />
<path d="M444.5,445 L457.5,436.3 L468,443.8 L468,461.3 L456.3,468.8 L444.5,461.3 Z" stroke="#000" stroke-width="1.7" fill="#fff" stroke-linejoin="round" stroke-linecap="round" />
<path d="M444.5,445 L455.2,451.5 L468,443.8 M455.2,451.5 L456.3,468.8" stroke="#000" stroke-width="1.4" fill="none" stroke-linejoin="round" stroke-linecap="round" />
<ellipse cx="450" cy="458.3" rx="3.1" ry="3.6" stroke="#000" stroke-width="1.4" fill="none" />
<ellipse cx="450.8" cy="459" rx="1.6" ry="2.0" stroke="#000" stroke-width="1.0" fill="none" />
<ellipse cx="462.6" cy="450.4" rx="1.7" ry="2.1" stroke="#000" stroke-width="1.2" fill="none" />
<path d="M469.5,440.5 L480,433.8 L510,412.5 Q522,404.5 536.2,398.8 Q548,395 560,395.8 Q571,397 580,400.3 Q588,404 592.5,408.5 Q597,413.5 599.5,419.5 L605,427" stroke="#000" stroke-width="1.7" fill="none" stroke-linejoin="round" stroke-linecap="round" />
<path d="M477.5,450.5 L485,445.3 L521.2,420 Q532,413.5 542.5,410 Q554,407 565,407.8 Q572,409 577.5,412.5 Q582.5,416.5 585,421 L590.3,431.5" stroke="#000" stroke-width="1.7" fill="none" stroke-linejoin="round" stroke-linecap="round" />
<path d="M469.5,440.5 L468.3,443.5 M477.5,450.5 L468.3,456" stroke="#000" stroke-width="1.5" fill="none" stroke-linejoin="round" stroke-linecap="round" />
<path d="M478.8,434.6 Q483.5,438.5 484.6,445.6" stroke="#000" stroke-width="1.3" fill="none" stroke-linejoin="round" stroke-linecap="round" />
<path d="M521,419.2 L521.8,421.2 M534,412.8 L534.6,414.8 M558.5,407.2 L558.7,409.3 M565,408.2 L565.3,410.2 M577,412.6 L575.8,414.5" stroke="#000" stroke-width="0.9" fill="none" stroke-linejoin="round" stroke-linecap="round" />
<path d="M590,431 L605,426.5 L607.8,445 L595,449.8 Z" stroke="#000" stroke-width="1.6" fill="#fff" stroke-linejoin="round" stroke-linecap="round" />
<path d="M590.8,433.5 L605.4,429 M591.5,436.3 L605.9,431.8 M594.2,446.3 L607.4,441.5" stroke="#000" stroke-width="1.4" fill="none" stroke-linejoin="round" stroke-linecap="round" />
<path d="M596.8,450 Q597,455.5 599.5,460 L603,465.8 M606.3,446.8 Q606.8,452.5 609.5,457 L613.6,463" stroke="#000" stroke-width="1.6" fill="none" stroke-linejoin="round" stroke-linecap="round" />
<path d="M600.5,466.3 L607.3,462 Q612.5,460.3 616.3,463.3 Q619.8,467 618.3,472.3 Q616.8,477.5 612.3,480.5 L606.5,483.2" stroke="#000" stroke-width="1.7" fill="#fff" stroke-linejoin="round" stroke-linecap="round" />
<ellipse cx="605.5" cy="474.5" rx="5.3" ry="8.6" stroke="#000" stroke-width="1.7" fill="#fff" transform="rotate(-25 605.5 474.5)" />
<ellipse cx="606" cy="474.6" rx="2.9" ry="5.2" stroke="#000" stroke-width="1.3" fill="none" transform="rotate(-25 606 474.6)" />
<ellipse cx="593.2" cy="480.9" rx="5.4" ry="7.4" stroke="#000" stroke-width="3.0" fill="#fff" transform="rotate(-25 593.2 480.9)" />
<ellipse cx="594.3" cy="481.3" rx="1.7" ry="3.4" stroke="#000" stroke-width="1.0" fill="none" transform="rotate(-25 594.3 481.3)" />
<path d="M589.5,487 Q592.8,490.8 596.8,489.3" stroke="#000" stroke-width="1.2" fill="none" stroke-linejoin="round" stroke-linecap="round" />
<ellipse cx="626.9" cy="461.5" rx="5.4" ry="7.4" stroke="#000" stroke-width="3.0" fill="#fff" transform="rotate(-25 626.9 461.5)" />
<ellipse cx="628" cy="461.9" rx="1.7" ry="3.4" stroke="#000" stroke-width="1.0" fill="none" transform="rotate(-25 628 461.9)" />
<path d="M623.2,467.6 Q626.5,471.4 630.5,469.9" stroke="#000" stroke-width="1.2" fill="none" stroke-linejoin="round" stroke-linecap="round" />
<line x1="636.5" y1="456.2" x2="666.3" y2="438.8" stroke="#000" stroke-width="1.1" />
<path d="M571.5,498.5 L586.8,490.5 L582.8,482.7 L567.5,490.7 Z" stroke="#000" stroke-width="1.6" fill="#fff" stroke-linejoin="round" stroke-linecap="round" />
<line x1="573.4" y1="497.5" x2="571.1" y2="488.8" stroke="#000" stroke-width="1.0" />
<line x1="575.6" y1="496.4" x2="573.3" y2="487.6" stroke="#000" stroke-width="1.0" />
<line x1="577.8" y1="495.2" x2="575.5" y2="486.5" stroke="#000" stroke-width="1.0" />
<line x1="580.1" y1="494.0" x2="577.7" y2="485.3" stroke="#000" stroke-width="1.0" />
<line x1="582.3" y1="492.9" x2="580.0" y2="484.2" stroke="#000" stroke-width="1.0" />
<line x1="584.5" y1="491.7" x2="582.2" y2="483.0" stroke="#000" stroke-width="1.0" />
<path d="M584.3,482.5 Q588,485 585.5,490.6" stroke="#000" stroke-width="1.5" fill="#fff" stroke-linejoin="round" stroke-linecap="round" />
<path d="M565.5,488.8 L569.8,486.6 Q574.5,491 574.3,497.5 Q574,501.5 572,503.3 L567.8,505.2" stroke="#000" stroke-width="1.6" fill="#fff" stroke-linejoin="round" stroke-linecap="round" />
<ellipse cx="562.6" cy="498" rx="6.6" ry="8.4" stroke="#000" stroke-width="2.4" fill="#fff" transform="rotate(-22 562.6 498)" />
<path d="M567.9,499.1 L564.8,504.2 L559.8,503.3 L557.9,497.3 L561.0,492.2 L566.0,493.1 Z" stroke="#000" stroke-width="1.6" fill="#fff" stroke-linejoin="round" stroke-linecap="round" />
<path d="M558.5,495 L563,498.5 L567.3,494.6 M563,498.5 L563.2,504.8" stroke="#000" stroke-width="1.3" fill="none" stroke-linejoin="round" stroke-linecap="round" />
<path d="M556.8,493.5 Q555,498.5 557.3,504 L561.8,506.6" stroke="#000" stroke-width="2.4" fill="none" stroke-linejoin="round" stroke-linecap="round" />
<path d="M485.8,467.4 L516.6,483.4 L519.0,479.0 L488.2,463.0 Z" stroke="#000" stroke-width="1.4" fill="#fff" stroke-linejoin="round" stroke-linecap="round" />
<line x1="486.6" y1="467.8" x2="487.4" y2="462.6" stroke="#000" stroke-width="1.0" />
<line x1="488.4" y1="468.8" x2="489.1" y2="463.5" stroke="#000" stroke-width="1.0" />
<line x1="490.2" y1="469.7" x2="490.9" y2="464.4" stroke="#000" stroke-width="1.0" />
<line x1="492.0" y1="470.6" x2="492.7" y2="465.3" stroke="#000" stroke-width="1.0" />
<line x1="493.7" y1="471.5" x2="494.5" y2="466.3" stroke="#000" stroke-width="1.0" />
<line x1="495.5" y1="472.4" x2="496.2" y2="467.2" stroke="#000" stroke-width="1.0" />
<line x1="497.3" y1="473.4" x2="498.0" y2="468.1" stroke="#000" stroke-width="1.0" />
<line x1="499.1" y1="474.3" x2="499.8" y2="469.0" stroke="#000" stroke-width="1.0" />
<ellipse cx="521.8" cy="484.6" rx="4.9" ry="6.2" stroke="#000" stroke-width="1.7" fill="#fff" transform="rotate(-15 521.8 484.6)" />
<path d="M525.8,485.5 L523.5,489.2 L519.8,488.4 L518.6,483.9 L520.9,480.2 L524.6,481.0 Z" stroke="#000" stroke-width="1.1" fill="#fff" stroke-linejoin="round" stroke-linecap="round" />
<path d="M518.3,479.6 Q516,484.3 518.3,489.8" stroke="#000" stroke-width="2.0" fill="none" stroke-linejoin="round" stroke-linecap="round" />
<path d="M430.7,496.7 L430.7,488.5 Q431.5,485.5 434.5,483.7 Q437.5,481.8 440.3,481.8 Q442.5,482 443.2,483.2 L442.7,490.5 L442.7,493.4 L443.7,495.3 Q447.5,496.5 450,499.1 Q452.5,501.5 453.3,504.9 Q454,507.5 453.3,509.8 Q452,512.3 450,513.6 L447.5,515 L447.1,518.4 L436.5,523.3 Q433.5,523.3 431.6,520.4 Z" stroke="#000" stroke-width="1.8" fill="#fff" stroke-linejoin="round" stroke-linecap="round" />
<path d="M431.2,496.7 L442.7,493.4 M432.6,499.6 L443.7,495.3" stroke="#000" stroke-width="1.4" fill="none" stroke-linejoin="round" stroke-linecap="round" />
<path d="M442.7,497.7 Q446,499 447.6,501.1 Q449.8,503.5 450.4,505.9 Q450.8,508.8 450,511.2" stroke="#000" stroke-width="1.3" fill="none" stroke-linejoin="round" stroke-linecap="round" />
<path d="M439.4,499.6 Q442.5,501.3 444.7,504 Q446.5,507 446.6,509.8 Q446.5,512.5 445.6,514.6" stroke="#000" stroke-width="1.3" fill="none" stroke-linejoin="round" stroke-linecap="round" />
<path d="M433.1,503 Q436,503.5 438.4,504.9 Q440.8,507 441.8,509.8 Q442.3,512.5 441.3,514.6 Q439.5,516.5 436.5,517.3" stroke="#000" stroke-width="1.4" fill="none" stroke-linejoin="round" stroke-linecap="round" />
<path d="M434.5,517.8 L447.5,514.8 M435.5,520 L447.3,516.5" stroke="#000" stroke-width="2.4" fill="none" stroke-linejoin="round" stroke-linecap="round" />
<ellipse cx="435.6" cy="520.6" rx="2.2" ry="2.6" stroke="#000" stroke-width="1.2" fill="#fff" />
<ellipse cx="436.9" cy="490" rx="2.3" ry="3.7" stroke="#000" stroke-width="1.4" fill="#000" transform="rotate(12 436.9 490)" />
<path d="M461.0,507.9 L469.5,511.8 L471.5,507.2 L463.0,503.3 Z" stroke="#000" stroke-width="1.3" fill="#fff" stroke-linejoin="round" stroke-linecap="round" />
<line x1="461.7" y1="508.2" x2="462.3" y2="503.0" stroke="#000" stroke-width="1.0" />
<line x1="463.5" y1="509.0" x2="464.1" y2="503.8" stroke="#000" stroke-width="1.0" />
<line x1="465.3" y1="509.9" x2="466.0" y2="504.7" stroke="#000" stroke-width="1.0" />
<line x1="467.1" y1="510.7" x2="467.8" y2="505.5" stroke="#000" stroke-width="1.0" />
<ellipse cx="474.6" cy="511.3" rx="4.7" ry="5.8" stroke="#000" stroke-width="1.7" fill="#fff" transform="rotate(-15 474.6 511.3)" />
<path d="M478.5,512.2 L476.2,515.6 L472.7,514.8 L471.5,510.6 L473.8,507.2 L477.3,508.0 Z" stroke="#000" stroke-width="1.1" fill="#fff" stroke-linejoin="round" stroke-linecap="round" />
<path d="M471.5,506.6 Q469.3,511 471.3,516.3" stroke="#000" stroke-width="2.2" fill="none" stroke-linejoin="round" stroke-linecap="round" />
<path d="M637.3,338.9 L653.2,346.8 L655.6,342.0 L639.7,334.1 Z" stroke="#000" stroke-width="1.4" fill="#fff" stroke-linejoin="round" stroke-linecap="round" />
<line x1="637.0" y1="338.8" x2="641.5" y2="335.0" stroke="#000" stroke-width="1.0" />
<line x1="639.2" y1="339.9" x2="643.8" y2="336.1" stroke="#000" stroke-width="1.0" />
<line x1="641.5" y1="341.0" x2="646.0" y2="337.2" stroke="#000" stroke-width="1.0" />
<line x1="643.7" y1="342.1" x2="648.3" y2="338.3" stroke="#000" stroke-width="1.0" />
<line x1="645.9" y1="343.2" x2="650.5" y2="339.4" stroke="#000" stroke-width="1.0" />
<line x1="648.2" y1="344.3" x2="652.7" y2="340.6" stroke="#000" stroke-width="1.0" />
<line x1="650.4" y1="345.4" x2="655.0" y2="341.7" stroke="#000" stroke-width="1.0" />
<ellipse cx="637.8" cy="336.1" rx="3.4" ry="5.0" stroke="#000" stroke-width="2.2" fill="#fff" transform="rotate(-26 637.8 336.1)" />
<path d="M630.9,338.3 L635.5,340.6 L640.0,331.6 L635.3,329.3 Z" fill="#fff" stroke="none"/>
<path d="M630.9,338.3 L635.5,340.6 M635.3,329.3 L640.0,331.6" stroke="#000" stroke-width="1.5" fill="none" stroke-linejoin="round" stroke-linecap="round" />
<ellipse cx="633.1" cy="333.8" rx="3.4" ry="5.0" stroke="#000" stroke-width="1.8" fill="#fff" transform="rotate(-26 633.1 333.8)" />
<path d="M602.3,362.6 L618.2,370.5 L620.6,365.7 L604.7,357.8 Z" stroke="#000" stroke-width="1.4" fill="#fff" stroke-linejoin="round" stroke-linecap="round" />
<line x1="602.0" y1="362.5" x2="606.5" y2="358.7" stroke="#000" stroke-width="1.0" />
<line x1="604.2" y1="363.6" x2="608.8" y2="359.8" stroke="#000" stroke-width="1.0" />
<line x1="606.5" y1="364.7" x2="611.0" y2="360.9" stroke="#000" stroke-width="1.0" />
<line x1="608.7" y1="365.8" x2="613.3" y2="362.0" stroke="#000" stroke-width="1.0" />
<line x1="610.9" y1="366.9" x2="615.5" y2="363.1" stroke="#000" stroke-width="1.0" />
<line x1="613.2" y1="368.0" x2="617.7" y2="364.3" stroke="#000" stroke-width="1.0" />
<line x1="615.4" y1="369.1" x2="620.0" y2="365.4" stroke="#000" stroke-width="1.0" />
<ellipse cx="602.8" cy="359.8" rx="3.4" ry="5.0" stroke="#000" stroke-width="2.2" fill="#fff" transform="rotate(-26 602.8 359.8)" />
<path d="M595.9,362.0 L600.5,364.3 L605.0,355.3 L600.3,353.0 Z" fill="#fff" stroke="none"/>
<path d="M595.9,362.0 L600.5,364.3 M600.3,353.0 L605.0,355.3" stroke="#000" stroke-width="1.5" fill="none" stroke-linejoin="round" stroke-linecap="round" />
<ellipse cx="598.1" cy="357.5" rx="3.4" ry="5.0" stroke="#000" stroke-width="1.8" fill="#fff" transform="rotate(-26 598.1 357.5)" />
<path d="M703.4,349.5 L703.4,353 Q711,359.5 718.4,353 L718.4,349.5" stroke="#000" stroke-width="1.6" fill="#fff" stroke-linejoin="round" stroke-linecap="round" />
<path d="M703.6,351.2 Q711,357.3 718.2,351.2" stroke="#000" stroke-width="1.2" fill="none" stroke-linejoin="round" stroke-linecap="round" />
<ellipse cx="710.9" cy="345.8" rx="9.3" ry="5.0" stroke="#000" stroke-width="1.8" fill="#fff" />
<path d="M701.8,347.2 Q710.9,354.5 720,347.2" stroke="#000" stroke-width="1.3" fill="none" stroke-linejoin="round" stroke-linecap="round" />
<ellipse cx="711" cy="344.6" rx="4.3" ry="2.3" stroke="#000" stroke-width="1.3" fill="none" />
<path d="M688.5,319.5 L692.3,315.3 L712.8,335 Q714.8,337.5 714.5,340.5 L714.3,344.3 L707.5,344.3 L707.4,341 Q707.3,339 705.8,337.5 Z" stroke="#000" stroke-width="1.6" fill="#fff" stroke-linejoin="round" stroke-linecap="round" />
<path d="M706.3,337.6 Q710.5,333.8 713.3,335.8" stroke="#000" stroke-width="1.2" fill="none" stroke-linejoin="round" stroke-linecap="round" />
<path d="M688.5,319.5 Q689,316 692.3,315.3" stroke="#000" stroke-width="2.2" fill="none" stroke-linejoin="round" stroke-linecap="round" />
<ellipse cx="737.5" cy="338.2" rx="11.6" ry="8.2" stroke="#000" stroke-width="1.9" fill="#fff" />
<path d="M726.2,340.3 Q737.5,350.3 748.8,340.3" stroke="#000" stroke-width="1.4" fill="none" stroke-linejoin="round" stroke-linecap="round" />
<ellipse cx="737.7" cy="336.9" rx="7.9" ry="5.2" stroke="#000" stroke-width="1.6" fill="none" />
<path d="M727.3,333.6 L733.3,332.2 L732.2,336.8" stroke="#000" stroke-width="1.5" fill="#fff" stroke-linejoin="round" stroke-linecap="round" />
<path d="M725.6,335.5 L730.3,331.3" stroke="#000" stroke-width="3.0" fill="none" stroke-linejoin="round" stroke-linecap="round" stroke="#fff"/>
<path d="M727.5,333.3 L731.8,331.2 L733.5,332.6" stroke="#000" stroke-width="1.3" fill="none" stroke-linejoin="round" stroke-linecap="round" />
<ellipse cx="710.9" cy="367.8" rx="10.6" ry="5.8" stroke="#000" stroke-width="1.9" fill="#fff" />
<ellipse cx="710.9" cy="367.9" rx="8.0" ry="3.9" stroke="#000" stroke-width="1.4" fill="none" />
<path d="M676,428.5 L703.5,412.5 L737.5,396 L737.9,412.9 L692.1,435.2 L682.5,438.8 Z" stroke="#000" stroke-width="1.6" fill="#fff" stroke-linejoin="round" stroke-linecap="round" />
<path d="M667.3,433.8 L677,429.5 L683,438.6 L673,444.4 Q669.5,445 667.5,441 Q666,437 667.3,433.8 Z" stroke="#000" stroke-width="1.6" fill="#fff" stroke-linejoin="round" stroke-linecap="round" />
<path d="M666.6,436 Q667.5,433.5 669.8,434 Q672.3,436 673.3,440 Q673.8,443.5 672,444.5 Q669,445 667.3,441.5 Q666.2,438.5 666.6,436 Z" stroke="#000" stroke-width="1.2" fill="#000" stroke-linejoin="round" stroke-linecap="round" />
<path d="M672.5,433 L676.6,442 M676,436.2 L680.5,433.8" stroke="#000" stroke-width="1.2" fill="none" stroke-linejoin="round" stroke-linecap="round" />
<path d="M670.7,420 L678.6,414.3 L688.6,417.1 L688.8,421 L680.5,426.2 L680.3,429.8 L676.5,431.6 L671.6,425.8 Z" stroke="#000" stroke-width="1.6" fill="#fff" stroke-linejoin="round" stroke-linecap="round" />
<path d="M670.7,420 L680,423.3 L688.6,417.1 M680,423.3 L680.5,426.2" stroke="#000" stroke-width="1.3" fill="none" stroke-linejoin="round" stroke-linecap="round" />
<ellipse cx="684.3" cy="431.2" rx="4.4" ry="5.2" stroke="#000" stroke-width="1.6" fill="#fff" transform="rotate(-20 684.3 431.2)" />
<ellipse cx="684.6" cy="431.4" rx="2.4" ry="3.0" stroke="#000" stroke-width="1.3" fill="none" transform="rotate(-20 684.6 431.4)" />
<path d="M688.3,425.5 Q692.6,430 690.3,436.5" stroke="#000" stroke-width="2.6" fill="none" stroke-linejoin="round" stroke-linecap="round" />
<path d="M691.5,424.3 Q695.3,429.3 693.5,435.3" stroke="#000" stroke-width="1.4" fill="none" stroke-linejoin="round" stroke-linecap="round" />
<path d="M684.3,413.3 Q684.3,407 689,404.3 Q693.3,402.3 697,405 L702,409.5 L702.5,416 L698.5,421.3 L693.3,420.6 L688,417.6 Z" stroke="#000" stroke-width="1.6" fill="#fff" stroke-linejoin="round" stroke-linecap="round" />
<ellipse cx="697.4" cy="413.6" rx="4.3" ry="5.4" stroke="#000" stroke-width="1.7" fill="#fff" transform="rotate(-20 697.4 413.6)" />
<ellipse cx="697.7" cy="413.8" rx="2.2" ry="3.0" stroke="#000" stroke-width="1.3" fill="none" transform="rotate(-20 697.7 413.8)" />
<path d="M689.2,404.3 L693.8,408.6" stroke="#000" stroke-width="1.2" fill="none" stroke-linejoin="round" stroke-linecap="round" />
<path d="M699.2,395.7 L699.9,404.3 A10.9,6.6 0 0 0 721.5,405.7 L721.8,396.2" stroke="#000" stroke-width="1.7" fill="#fff" stroke-linejoin="round" stroke-linecap="round" />
<path d="M710.7,411 L717.9,417.1 L720.7,408.3" stroke="#000" stroke-width="1.4" fill="#fff" stroke-linejoin="round" stroke-linecap="round" />
<path d="M703,409.3 L706.5,413.5 M700,404.8 L697.5,407" stroke="#000" stroke-width="1.2" fill="none" stroke-linejoin="round" stroke-linecap="round" />
<ellipse cx="710.4" cy="395.6" rx="11.3" ry="6.0" stroke="#000" stroke-width="2.4" fill="#fff" />
<ellipse cx="710.6" cy="397.3" rx="7.9" ry="3.6" stroke="#000" stroke-width="1.4" fill="none" />
<path d="M704.5,399.4 Q710.6,396.3 716.6,399.4" stroke="#000" stroke-width="1.1" fill="none" stroke-linejoin="round" stroke-linecap="round" />
<path d="M719.5,388.5 Q719.5,382.3 724,379.6 Q728.5,377.6 732.5,380.3 L737.1,384.3 L737.5,396 L733,399.5 L727.5,397.5 L722.3,392.5 Z" stroke="#000" stroke-width="1.6" fill="#fff" stroke-linejoin="round" stroke-linecap="round" />
<ellipse cx="732.1" cy="390" rx="4.3" ry="5.4" stroke="#000" stroke-width="1.7" fill="#fff" transform="rotate(-20 732.1 390)" />
<ellipse cx="732.4" cy="390.2" rx="2.2" ry="3.0" stroke="#000" stroke-width="1.3" fill="none" transform="rotate(-20 732.4 390.2)" />
<path d="M724,379.8 L728.8,384.4" stroke="#000" stroke-width="1.2" fill="none" stroke-linejoin="round" stroke-linecap="round" />
<path d="M737.1,384.3 L742.9,381.2 Q746,381 748.6,385.7 Q752.3,390.5 752.9,396 Q753.3,401 752.1,403.5 L747.1,408.8 L737.9,412.9 Z" stroke="#000" stroke-width="1.7" fill="#fff" stroke-linejoin="round" stroke-linecap="round" />
<path d="M741.5,386 L742.3,409.8 M741.5,386 L746,383.3 M741.8,396 L748.5,392.8 L752.7,396.5 M748.5,392.8 L748.8,406.5 M741.9,401.5 L748.6,398.8" stroke="#000" stroke-width="1.2" fill="none" stroke-linejoin="round" stroke-linecap="round" />
<path d="M742.9,381.2 L744.3,384.2" stroke="#000" stroke-width="1.2" fill="none" stroke-linejoin="round" stroke-linecap="round" />
<path d="M765.8,371.5 L792,358.3 Q797,358.5 798.6,364 Q798.8,369.5 795,371.5 L775.5,384.8 Z" stroke="#000" stroke-width="1.5" fill="#fff" stroke-linejoin="round" stroke-linecap="round" />
<ellipse cx="777.5" cy="374.3" rx="4.4" ry="7.6" stroke="#000" stroke-width="2.3" fill="none" transform="rotate(-25 777.5 374.3)" />
<ellipse cx="780.4" cy="372.8" rx="4.28" ry="7.3" stroke="#000" stroke-width="2.3" fill="none" transform="rotate(-25 780.4 372.8)" />
<ellipse cx="783.3" cy="371.2" rx="4.16" ry="7.0" stroke="#000" stroke-width="2.3" fill="none" transform="rotate(-25 783.3 371.2)" />
<ellipse cx="786.2" cy="369.7" rx="4.04" ry="6.699999999999999" stroke="#000" stroke-width="2.3" fill="none" transform="rotate(-25 786.2 369.7)" />
<ellipse cx="789.1" cy="368.1" rx="3.9200000000000004" ry="6.3999999999999995" stroke="#000" stroke-width="2.3" fill="none" transform="rotate(-25 789.1 368.1)" />
<ellipse cx="792.0" cy="366.6" rx="3.8000000000000003" ry="6.1" stroke="#000" stroke-width="2.3" fill="none" transform="rotate(-25 792.0 366.6)" />
<ellipse cx="794.9" cy="365.0" rx="3.6800000000000006" ry="5.8" stroke="#000" stroke-width="2.3" fill="none" transform="rotate(-25 794.9 365.0)" />
<ellipse cx="795.3" cy="364.6" rx="3.3" ry="5.6" stroke="#000" stroke-width="1.6" fill="#fff" transform="rotate(-25 795.3 364.6)" />
<ellipse cx="771.3" cy="377.8" rx="6.9" ry="9.3" stroke="#000" stroke-width="2.2" fill="#fff" transform="rotate(-25 771.3 377.8)" />
<ellipse cx="771.8" cy="378" rx="4.7" ry="6.9" stroke="#000" stroke-width="1.6" fill="none" transform="rotate(-25 771.8 378)" />
<ellipse cx="772.5" cy="378.2" rx="2.6" ry="4.6" stroke="#000" stroke-width="1.3" fill="none" transform="rotate(-25 772.5 378.2)" />
<path d="M806,348.5 L811,347 Q816,349.5 817.3,355.5 Q817.8,360.5 815.5,363 L811.5,365" stroke="#000" stroke-width="1.5" fill="#fff" stroke-linejoin="round" stroke-linecap="round" />
<ellipse cx="808.6" cy="356.6" rx="5.9" ry="8.4" stroke="#000" stroke-width="2.0" fill="#fff" transform="rotate(-25 808.6 356.6)" />
<ellipse cx="809" cy="356.8" rx="3.6" ry="5.7" stroke="#000" stroke-width="2.2" fill="#333" transform="rotate(-25 809 356.8)" />
<ellipse cx="809.3" cy="357" rx="1.3" ry="2.3" stroke="#000" stroke-width="0.8" fill="#aaa" transform="rotate(-25 809.3 357)" />
<path d="M831.5,335 L850,325.5 Q855.5,325.5 857.2,331 Q858,337 855,339.5 L838,349.5 Z" stroke="#000" stroke-width="1.6" fill="#fff" stroke-linejoin="round" stroke-linecap="round" />
<ellipse cx="838.5" cy="341.0" rx="3.6" ry="6.6" stroke="#000" stroke-width="1.9" fill="none" transform="rotate(-25 838.5 341.0)" />
<ellipse cx="840.9" cy="339.8" rx="3.6" ry="6.6" stroke="#000" stroke-width="1.9" fill="none" transform="rotate(-25 840.9 339.8)" />
<ellipse cx="843.3" cy="338.5" rx="3.6" ry="6.6" stroke="#000" stroke-width="1.9" fill="none" transform="rotate(-25 843.3 338.5)" />
<ellipse cx="845.7" cy="337.2" rx="3.6" ry="6.6" stroke="#000" stroke-width="1.9" fill="none" transform="rotate(-25 845.7 337.2)" />
<ellipse cx="848.1" cy="336.0" rx="3.6" ry="6.6" stroke="#000" stroke-width="1.9" fill="none" transform="rotate(-25 848.1 336.0)" />
<ellipse cx="850.5" cy="334.8" rx="3.6" ry="6.6" stroke="#000" stroke-width="1.9" fill="none" transform="rotate(-25 850.5 334.8)" />
<path d="M837,337.5 L849,331.3 M838,342.5 L851,335.8 M840,346 L852,339.5" stroke="#000" stroke-width="1.6" fill="none" stroke-linejoin="round" stroke-linecap="round" />
<ellipse cx="853" cy="331.8" rx="3.6" ry="6.3" stroke="#000" stroke-width="1.7" fill="#fff" transform="rotate(-25 853 331.8)" />
<ellipse cx="848.6" cy="333.8" rx="3.9" ry="7.2" stroke="#000" stroke-width="1.7" fill="#fff" transform="rotate(-25 848.6 333.8)" />
<ellipse cx="834.2" cy="341.5" rx="4.6" ry="7.6" stroke="#000" stroke-width="1.7" fill="#fff" transform="rotate(-25 834.2 341.5)" />
<path d="M823.3,343.5 L831,339.6 L835,348 L827.5,352.5" stroke="#000" stroke-width="1.5" fill="#fff" stroke-linejoin="round" stroke-linecap="round" />
<ellipse cx="828.6" cy="346.8" rx="3.4" ry="5.6" stroke="#000" stroke-width="1.5" fill="#fff" transform="rotate(-25 828.6 346.8)" />
<ellipse cx="822.6" cy="348.3" rx="2.3" ry="3.8" stroke="#000" stroke-width="1.5" fill="#fff" transform="rotate(-25 822.6 348.3)" />
<path d="M821.5,345 L824.8,343.3 M823.8,352 L827,350.3" stroke="#000" stroke-width="1.4" fill="none" stroke-linejoin="round" stroke-linecap="round" />
<ellipse cx="863.8" cy="325.6" rx="6.6" ry="8.8" stroke="#000" stroke-width="2.0" fill="#fff" transform="rotate(-25 863.8 325.6)" />
<ellipse cx="864.3" cy="325.9" rx="4.2" ry="6.0" stroke="#000" stroke-width="1.5" fill="none" transform="rotate(-25 864.3 325.9)" />
<ellipse cx="864.6" cy="326.2" rx="1.7" ry="2.6" stroke="#000" stroke-width="1.6" fill="none" transform="rotate(-25 864.6 326.2)" />
<path d="M860.5,322 L863,324.5 M866.3,328 L868.3,330.3 M861.8,330 L863.5,327.8" stroke="#000" stroke-width="1.2" fill="none" stroke-linejoin="round" stroke-linecap="round" />
<ellipse cx="882" cy="315" rx="8.9" ry="11.9" stroke="#000" stroke-width="2.2" fill="#fff" transform="rotate(-25 882 315)" />
<ellipse cx="883.2" cy="314.6" rx="4.7" ry="7.6" stroke="#000" stroke-width="1.7" fill="none" transform="rotate(-25 883.2 314.6)" />
<path d="M872.3,313 L877.5,309.8" stroke="#000" stroke-width="3.4" fill="none" stroke-linejoin="round" stroke-linecap="round" stroke="#fff"/>
<path d="M871.8,310.8 L876.3,309.2 L876.6,311.6 M872.3,315.5 L877,313.2 L877.5,315.6" stroke="#000" stroke-width="1.3" fill="none" stroke-linejoin="round" stroke-linecap="round" />
<path d="M878.8,324.3 Q884,328.5 889,324.3" stroke="#000" stroke-width="1.2" fill="none" stroke-linejoin="round" stroke-linecap="round" />
<path d="M902.5,291.2 L912.9,286.4 Q918.5,286.5 921.3,292 Q923,297.5 921,302 Q919.5,305.5 917.1,306.3 L906.5,312.8 Z" stroke="#000" stroke-width="1.7" fill="#fff" stroke-linejoin="round" stroke-linecap="round" />
<ellipse cx="903.6" cy="302.1" rx="7.6" ry="11.2" stroke="#000" stroke-width="2.0" fill="#fff" transform="rotate(-18 903.6 302.1)" />
<ellipse cx="904.2" cy="302.3" rx="5.2" ry="8.6" stroke="#000" stroke-width="1.7" fill="none" transform="rotate(-18 904.2 302.3)" />
<path d="M909,293 Q912.5,298 911.3,306.5" stroke="#000" stroke-width="1.2" fill="none" stroke-linejoin="round" stroke-linecap="round" />
<path d="M975.3,289.3 L963.8,307" stroke="#000" stroke-width="2.8" fill="none" stroke-linejoin="round" stroke-linecap="round" />
<path d="M904.2,374.9 L929.2,364.7 L926.8,358.5 L901.8,368.7 Z" stroke="#000" stroke-width="1.5" fill="#fff" stroke-linejoin="round" stroke-linecap="round" />
<line x1="918.4" y1="369.1" x2="917.6" y2="362.3" stroke="#000" stroke-width="1.0" />
<line x1="920.4" y1="368.3" x2="919.5" y2="361.5" stroke="#000" stroke-width="1.0" />
<line x1="922.3" y1="367.5" x2="921.5" y2="360.7" stroke="#000" stroke-width="1.0" />
<line x1="924.2" y1="366.7" x2="923.4" y2="359.9" stroke="#000" stroke-width="1.0" />
<line x1="926.2" y1="365.9" x2="925.4" y2="359.1" stroke="#000" stroke-width="1.0" />
<line x1="928.1" y1="365.1" x2="927.3" y2="358.3" stroke="#000" stroke-width="1.0" />
<path d="M909.5,365.5 L915.8,363 L917.5,365 L919,371.8 L917.3,374 L911,376.5" stroke="#000" stroke-width="1.5" fill="#fff" stroke-linejoin="round" stroke-linecap="round" />
<path d="M915.8,363 L917.3,374" stroke="#000" stroke-width="1.2" fill="none" stroke-linejoin="round" stroke-linecap="round" />
<path d="M895.5,366.5 L902.5,366.5 L906.5,370.5 L907,377 L903.5,381.5 L898,383" stroke="#000" stroke-width="1.5" fill="#fff" stroke-linejoin="round" stroke-linecap="round" />
<ellipse cx="896.8" cy="376.8" rx="7.0" ry="10.6" stroke="#000" stroke-width="2.0" fill="#fff" transform="rotate(-20 896.8 376.8)" />
<ellipse cx="897.3" cy="377" rx="5.2" ry="8.3" stroke="#000" stroke-width="1.3" fill="none" transform="rotate(-20 897.3 377)" />
<path d="M901.4,378.9 L898.4,382.6 L894.3,381.2 L893.2,376.1 L896.2,372.4 L900.3,373.8 Z" stroke="#000" stroke-width="1.5" fill="#fff" stroke-linejoin="round" stroke-linecap="round" />
<ellipse cx="897.3" cy="377.6" rx="2.2" ry="2.9" stroke="#000" stroke-width="1.0" fill="none" />
<path d="M937.5,345.3 L943.5,344.8 L947.3,349.5 L947,356.5 L943.3,360.5 L937.3,358.5 L934.3,352.5 Z" stroke="#000" stroke-width="1.7" fill="#fff" stroke-linejoin="round" stroke-linecap="round" />
<ellipse cx="940.3" cy="352.3" rx="3.9" ry="5.0" stroke="#000" stroke-width="1.5" fill="none" transform="rotate(-20 940.3 352.3)" />
<ellipse cx="940.6" cy="352.5" rx="2.0" ry="2.9" stroke="#000" stroke-width="1.5" fill="#555" transform="rotate(-20 940.6 352.5)" />
<path d="M943.5,344.8 L944.5,347.8 L944.6,357 L943.3,360.5" stroke="#000" stroke-width="1.2" fill="none" stroke-linejoin="round" stroke-linecap="round" />
<path d="M976.8,345.9 L979.5,342.4 L988.4,336.1 Q990.8,333.5 990.6,330.8 Q990.5,328 989.3,326.7 Q987,325 983.9,325.4 L978.6,328.1 Z" stroke="#000" stroke-width="1.7" fill="#fff" stroke-linejoin="round" stroke-linecap="round" />
<ellipse cx="984.8" cy="332.5" rx="2.4" ry="4.0" stroke="#000" stroke-width="1.4" fill="none" transform="rotate(28 984.8 332.5)" />
<path d="M971.4,323.6 L976.8,320.5 Q979.5,320.3 981.3,321.8 Q983.5,324 983,326 L978.6,328.6 L978.6,341 L976.3,346.4 L975.9,334.3 Z" stroke="#000" stroke-width="1.6" fill="#fff" stroke-linejoin="round" stroke-linecap="round" />
<path d="M976.5,322.5 Q979.8,324.5 978.6,328.6" stroke="#000" stroke-width="2.2" fill="none" stroke-linejoin="round" stroke-linecap="round" />
<path d="M957.6,328.1 L960.7,325.4 L971.4,323.6 L975.9,334.3 L976.3,346.4 L969.2,348.6 L957.6,342.4 Z" stroke="#000" stroke-width="1.8" fill="#fff" stroke-linejoin="round" stroke-linecap="round" />
<path d="M957.6,328.1 L968.8,336.6 L969.2,348.6 M968.8,336.6 L975.9,334.3 M960.7,326.8 L968.9,334.9 L970.5,325.5" stroke="#000" stroke-width="1.4" fill="none" stroke-linejoin="round" stroke-linecap="round" />
<path d="M959.6,331.5 L959.6,341.3 L967.3,345.5 L967.2,337.4" stroke="#000" stroke-width="1.0" fill="none" stroke-linejoin="round" stroke-linecap="round" />
<ellipse cx="962.9" cy="338.8" rx="2.2" ry="3.3" stroke="#000" stroke-width="1.4" fill="none" transform="rotate(-15 962.9 338.8)" />
<path d="M961.8,336.6 L964,341" stroke="#000" stroke-width="1.0" fill="none" stroke-linejoin="round" stroke-linecap="round" />
<path d="M1000,336.4 L1008,340.6 L1007.1,346.6 L998.4,342.6 Q996.3,340.5 997.6,338 Q998.5,336.3 1000,336.4 Z" stroke="#000" stroke-width="1.6" fill="#fff" stroke-linejoin="round" stroke-linecap="round" />
<path d="M999.5,338.8 L1000.8,340.6" stroke="#000" stroke-width="1.2" fill="none" stroke-linejoin="round" stroke-linecap="round" />
<path d="M1008,340.6 L1013.4,336.6 L1017.9,338.8 L1018.3,350.4 L1010.7,354.9 L1008,353.5 Z" stroke="#000" stroke-width="1.8" fill="#fff" stroke-linejoin="round" stroke-linecap="round" />
<path d="M1008,340.6 L1012.5,342.8 L1017.9,338.8 M1012.5,342.8 L1012.3,353.8" stroke="#000" stroke-width="1.3" fill="none" stroke-linejoin="round" stroke-linecap="round" />
<path d="M1007.2,352 L1007.2,355.3" stroke="#000" stroke-width="2.4" fill="none" stroke-linejoin="round" stroke-linecap="round" />
</svg>
</body></html>
